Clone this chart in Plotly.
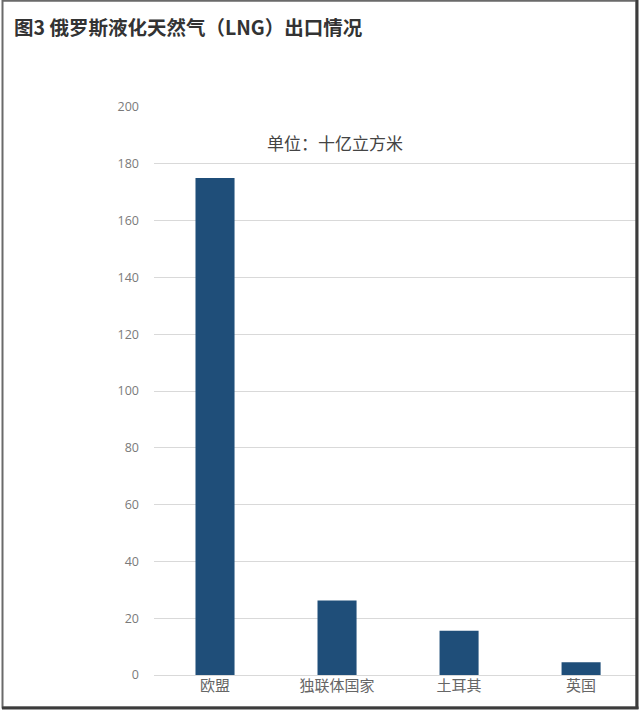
import plotly.graph_objects as go

# data
regions = ['欧盟', '独联体国家', '土耳其', '英国']
exports = [175, 26.2, 15.6, 4.5]  # 十亿立方米
y_ticks = [0, 20, 40, 60, 80, 100, 120, 140, 160, 180, 200]

title_text = '图3 俄罗斯液化天然气（LNG）出口情况'
unit_text = '单位：十亿立方米'

cjk = 'Noto Sans CJK SC'

W, H = 640, 715
L, R, T, B = 154, 4, 107, 40
pw, ph = W - L - R, H - T - B


def px(x):
    return (x - L) / pw


def py(y):
    return (H - B - y) / ph


fig = go.Figure()
fig.add_trace(go.Bar(
    x=regions,
    y=exports,
    width=0.32,
    marker=dict(color='#1f4e79', line=dict(width=0)),
))

fig.update_layout(
    width=W, height=H,
    margin=dict(l=L, r=R, t=T, b=B),
    paper_bgcolor='white',
    plot_bgcolor='white',
    showlegend=False,
    font=dict(family=cjk),
    title=dict(
        text='<b>' + title_text + '</b>',
        x=14 / W, xanchor='left',
        y=1 - 28 / H, yanchor='middle',
        font=dict(size=19.5, color='#333333', family=cjk),
    ),
    xaxis=dict(
        range=[-0.5, 3.45],
        showgrid=False,
        showline=False,
        ticks='',
        tickfont=dict(size=15, color='#666666'),
    ),
    yaxis=dict(
        range=[0, 200],
        tickvals=y_ticks,
        showgrid=True,
        gridcolor='#d9d9d9',
        gridwidth=1,
        zeroline=True,
        zerolinecolor='#d9d9d9',
        zerolinewidth=1,
        ticks='',
        ticklabelstandoff=14,
        tickfont=dict(size=12.5, color='#7a7a7a', family='Open Sans'),
    ),
)

# unit note (CJK glyphs sit low in their box, so aim a bit higher)
fig.add_annotation(
    text=unit_text,
    xref='paper', yref='paper',
    x=px(335), y=py(128),
    showarrow=False,
    font=dict(size=17, color='#444444', family=cjk),
)

# frame around the picture
fig.add_shape(type='rect', xref='paper', yref='paper',
              x0=px(2.5), x1=px(636.5), y0=py(707.5), y1=py(0.8),
              line=dict(color='#6a6a6a', width=2), layer='above')
fig.add_shape(type='line', xref='paper', yref='paper',
              x0=px(637), x1=px(637), y0=py(709), y1=py(0),
              line=dict(color='#3c3c3c', width=3), layer='above')
fig.add_shape(type='line', xref='paper', yref='paper',
              x0=px(2), x1=px(638.5), y0=py(708), y1=py(708),
              line=dict(color='#3c3c3c', width=3), layer='above')

fig.write_html("out.html", config={'displayModeBar': False},
               post_script="document.body.style.margin='0px';")
